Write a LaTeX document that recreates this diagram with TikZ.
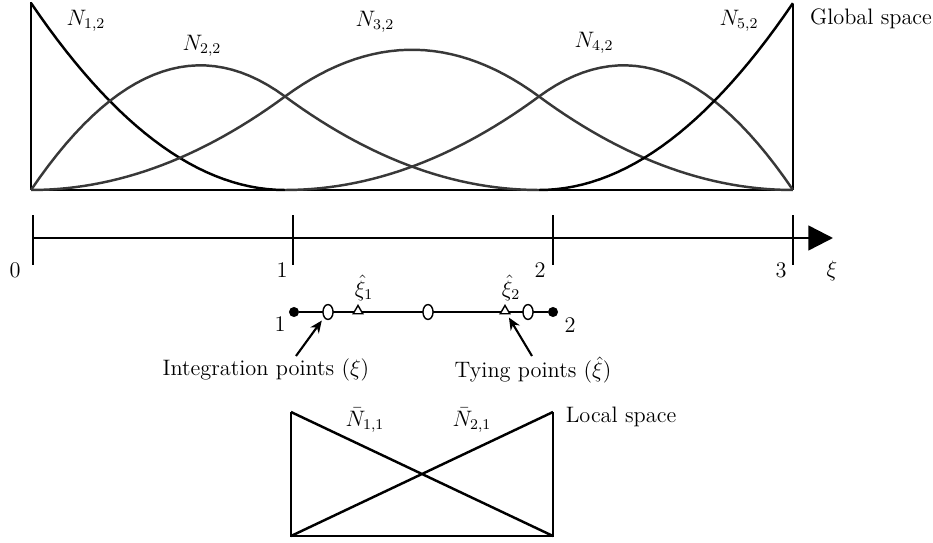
\documentclass[tikz,border=0pt]{standalone}
\usetikzlibrary{arrows.meta,shapes.geometric}
\tikzset{
	every node/.style={font=\large,scale=1.06},
	frame/.style={line width=0.9pt},
	basis/.style={line width=1.4pt,black!78},
	axis/.style={line width=1.4pt,-{Triangle[length=14pt,width=14pt]}},
	pointer/.style={line width=1.2pt,-{Stealth[length=7pt,width=6pt]},shorten >=2pt},
	node/.style={circle,fill=black,inner sep=0pt,minimum size=0.19cm},
	gauss/.style={ellipse,draw,fill=white,line width=0.8pt,inner sep=0pt,minimum width=0.19cm,minimum height=0.28cm},
	tying/.style={regular polygon,regular polygon sides=3,draw,fill=white,line width=0.8pt,inner sep=0pt,minimum size=0.21cm}
}
\begin{document}
\begin{tikzpicture}[x=0.02cm,y=0.02cm]
	\useasboundingbox (0,0) rectangle (933,542);
	% global space
	\draw[frame] (31,540) -- (31,352);
	\draw[frame] (793,538) -- (793,352);
	\draw[line width=1.7pt] (31,352) -- (793,352);
	\draw[basis,black] plot[domain=0:1,samples=30] ({31+254*\x},{352+187*(1-\x)^2});
	\draw[basis] plot[domain=0:1,samples=30] ({31+254*\x},{352+187*(2*\x-1.5*\x*\x)})
		-- plot[domain=1:2,samples=30] ({31+254*\x},{352+187*0.5*(2-\x)^2});
	\draw[basis] plot[domain=0:1,samples=30] ({31+254*\x},{352+187*0.5*\x*\x})
		-- plot[domain=1:2,samples=30] ({31+254*\x},{352+187*0.5*(-2*\x*\x+6*\x-3)})
		-- plot[domain=2:3,samples=30] ({31+254*\x},{352+187*0.5*(3-\x)^2});
	\draw[basis] plot[domain=1:2,samples=30] ({31+254*\x},{352+187*0.5*(\x-1)^2})
		-- plot[domain=2:3,samples=30] ({31+254*\x},{352+187*(2*(3-\x)-1.5*(3-\x)^2)});
	\draw[basis,black] plot[domain=2:3,samples=30] ({31+254*\x},{352+187*(\x-2)^2});
	\foreach \i/\px/\py in {1/86/521, 2/202/496, 3/375/520, 4/594/499, 5/739/521}{
		\node (N\i) at (\px,\py) {$N_{\i,2}$};
	}
	\node (global) at (871,523) {Global space};
	% knots
	\draw[axis] (33,304) -- (833,304);
	\foreach \i/\px/\lx in {0/33/15, 1/293/282, 2/553/540, 3/793/781}{
		\draw[frame] (\px,327) -- (\px,277);
		\node (k\i) at (\lx,272) {$\i$};
	}
	\node (xi) at (832,271) {$\xi$};
	% element
	\node[node] (e1) at (294,230) {};
	\node[node] (e2) at (553,230) {};
	\draw[line width=1.7pt] (e1) -- (e2);
	\node at (280,218) (l1) {$1$};
	\node at (570,217) (l2) {$2$};
	\foreach \i/\px in {1/328, 2/428, 3/528}{
		\node[gauss] (ip\i) at (\px,230) {};
	}
	\foreach \i/\px in {1/358, 2/505}{
		\node[tying] (tp\i) at (\px,231) {};
		\node (xh\i) at (\px+6,254) {$\hat{\xi}_\i$};
	}
	\node (intlab) at (266,172) {Integration points $(\xi)$};
	\node (tielab) at (533,172) {Tying points $(\hat{\xi})$};
	\coordinate (itail) at (296,186);
	\coordinate (ttail) at (532,186);
	\draw[pointer] (itail) -- (ip1);
	\draw[pointer] (ttail) -- (tp2);
	% local space
	\draw[line width=1.4pt] (291,130) -- (291,6) -- (553,6) -- (553,130);
	\draw[line width=1.4pt] (291,130) -- (553,6) (291,6) -- (553,130);
	\node (M1) at (365,122) {$\bar{N}_{1,1}$};
	\node (M2) at (472,122) {$\bar{N}_{2,1}$};
	\node (local) at (621,125) {Local space};
\end{tikzpicture}
\end{document}
